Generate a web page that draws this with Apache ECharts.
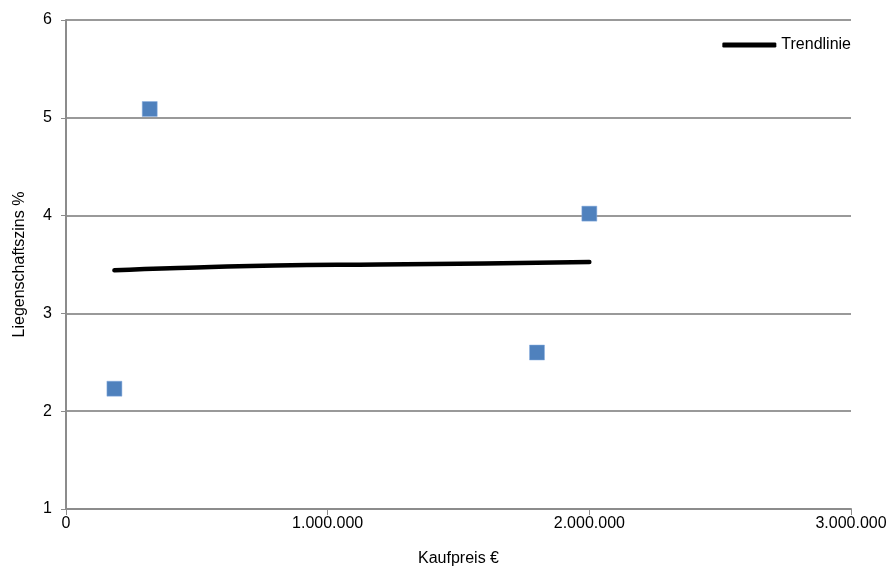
<!DOCTYPE html>
<html><head><meta charset="utf-8">
<script src="https://cdn.jsdelivr.net/npm/echarts@6/dist/echarts.min.js"></script>
<style>html,body{margin:0;padding:0;background:#fff}#c{width:891px;height:567px}</style>
</head><body><div id="c"></div>
<script>
const kaufpreis = [185000, 320000, 1800000, 2000000];
const zins = [2.23, 5.09, 2.60, 4.02];
const trendX = [185000, 300000, 500000, 800000, 1200000, 1600000, 2000000];
const trendY = [3.44, 3.455, 3.47, 3.49, 3.50, 3.51, 3.525];
const xTicks = ['0', '1.000.000', '2.000.000', '3.000.000'];

const font = "'Liberation Sans',Arial,sans-serif";
const chart = echarts.init(document.getElementById('c'), null, {renderer: 'canvas'});
chart.setOption({
  animation: false,
  textStyle: {fontFamily: font},
  grid: {left: 66, right: 40, top: 20, bottom: 58, containLabel: false, outerBoundsMode: 'none'},
  legend: {
    data: [{name: 'Trendlinie', icon: 'roundRect', itemStyle: {color: '#000'}}],
    right: 35, top: 32, itemWidth: 54, itemHeight: 5,
    textStyle: {fontFamily: font, fontSize: 16, color: '#000'}, itemGap: 2
  },
  xAxis: {
    type: 'value', min: 0, max: 3000000, interval: 1000000,
    name: 'Kaufpreis €', nameLocation: 'middle', nameGap: 42,
    nameTextStyle: {fontFamily: font, fontSize: 16, color: '#000'},
    axisLine: {show: true, lineStyle: {color: '#8c8c8c', width: 2}},
    axisTick: {show: true, length: 6, lineStyle: {color: '#8c8c8c', width: 1}},
    splitLine: {show: false},
    axisLabel: {fontFamily: font, fontSize: 16, color: '#000', margin: 7,
      formatter: (v) => xTicks[Math.round(v / 1000000)]}
  },
  yAxis: {
    type: 'value', min: 1, max: 6, interval: 1,
    name: 'Liegenschaftszins %', nameLocation: 'middle', nameGap: 38,
    nameTextStyle: {fontFamily: font, fontSize: 16, color: '#000'},
    axisLine: {show: true, lineStyle: {color: '#8c8c8c', width: 2}},
    axisTick: {show: true, length: 5, lineStyle: {color: '#8c8c8c', width: 1}},
    splitLine: {show: true, lineStyle: {color: '#999999', width: 2}},
    axisLabel: {fontFamily: font, fontSize: 16, color: '#000', margin: 14}
  },
  series: [
    {
      name: 'Daten', type: 'scatter', symbol: 'rect', symbolSize: 15,
      itemStyle: {color: '#4F81BD', opacity: 1, borderColor: '#8aaee0', borderWidth: 0.5},
      data: kaufpreis.map((x, i) => [x, zins[i]])
    },
    {
      name: 'Trendlinie', type: 'line', smooth: true, showSymbol: false,
      lineStyle: {color: '#000', width: 4.5, cap: 'round'},
      itemStyle: {color: '#000'},
      data: trendX.map((x, i) => [x, trendY[i]])
    }
  ]
});
</script></body></html>
